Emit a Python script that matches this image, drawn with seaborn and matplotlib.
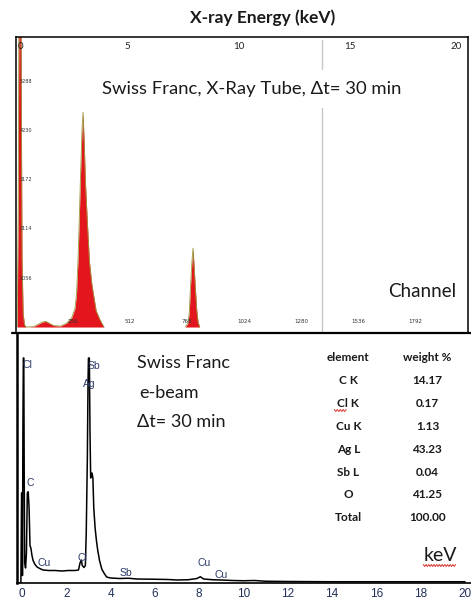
import seaborn as sns
import matplotlib.pyplot as plt
import numpy as np
import pandas as pd
from matplotlib.lines import Line2D

sns.set_style("white")
plt.rcParams['font.family'] = ['Lato', 'DejaVu Sans']

# top panel: X-ray tube spectrum, counts per channel
tube_channel = [0, 5, 10, 13, 22, 27, 32, 38, 45, 80, 100, 120, 135, 150, 170, 200,
                228, 250, 265, 272, 279, 284, 290, 296, 301, 306, 312, 320, 330, 340,
                347, 360, 375, 385, 395, 760, 772, 778, 784, 790, 795, 800, 806, 812,
                818, 825, 2030]
tube_counts = [0, 0, 2500, 7000, 7000, 1500, 300, 50, 0, 10, 60, 110, 120, 80, 30, 20,
               86, 200, 400, 730, 1500, 2300, 3300, 4200, 4630, 4000, 3100, 2300, 1400, 950,
               730, 350, 180, 86, 0, 0, 80, 300, 900, 1400, 1700, 1300, 800, 350,
               100, 0, 0]
count_ticks = [1056, 2114, 3172, 4230, 5288]
channel_ticks = [256, 512, 768, 1024, 1280, 1536, 1792]
energy_ticks_top = [0, 5, 10, 15, 20]

# bottom panel: e-beam EDS spectrum
ebeam_kev = [-0.2, -0.05, -0.02, 0.0, 0.02, 0.04, 0.06, 0.08, 0.10, 0.12, 0.16, 0.20,
             0.24, 0.28, 0.32, 0.36, 0.40, 0.45, 0.50, 0.58, 0.68, 0.8, 0.95, 1.2, 1.5,
             1.8, 2.1, 2.4, 2.55, 2.62, 2.68, 2.72, 2.8, 2.86, 2.9, 2.95, 2.98, 3.0,
             3.04, 3.07, 3.1, 3.16, 3.2, 3.24, 3.3, 3.36, 3.42, 3.5, 3.6, 3.7, 3.82,
             4.0, 4.4, 4.8, 5.2, 6.0, 6.6, 7.0, 7.5, 7.9, 8.05, 8.2, 8.6, 9.0, 9.5,
             10.0, 10.5, 11, 12, 14, 16, 18, 20]
ebeam_counts = [0, 0, 360, 360, 30, 600, 900, 900, 430, 80, 60, 120,
                360, 365, 300, 150, 140, 110, 90, 75, 64, 58, 52, 50, 50,
                48, 50, 50, 52, 80, 92, 70, 62, 70, 200, 500, 800, 900,
                900, 600, 420, 440, 420, 300, 220, 170, 130, 90, 56, 40, 24,
                20, 18, 19, 16, 15, 14, 12, 13, 18, 25, 16, 13, 12, 10,
                9, 10, 7, 6, 5, 5, 5, 5]
peak_labels = ["Cl", "Sb", "Ag", "C", "Cu", "Cl", "Sb", "Cu", "Cu"]
peak_label_kev = [0.25, 3.25, 3.05, 0.35, 1.0, 2.75, 4.7, 8.2, 9.0]
peak_label_counts = [870, 868, 795, 400, 80, 100, 40, 80, 32]

elements = ["C K", "Cl K", "Cu K", "Ag L", "Sb L", "O", "Total"]
weights = ["14.17", "0.17", "1.13", "43.23", "0.04", "41.25", "100.00"]

dark = "#1a1a1a"
fig = plt.figure(figsize=(4.71, 6.01), dpi=100)


def squiggle(ax, x0, x1, y, n=25, color="#d9342b"):
    # spell-check style wavy underline, in axes fraction coords
    xs = np.linspace(x0, x1, n)
    ys = y + np.where(np.arange(n) % 2 == 0, 0.004, -0.004)
    ax.plot(xs, ys, transform=ax.transAxes, color=color, lw=0.7)


# ---- top panel ----
ax1 = fig.add_axes([16 / 471, 1 - 333 / 601, 452 / 471, 296 / 601])
tube = pd.DataFrame({"channel": tube_channel, "counts": tube_counts})
ax1.fill_between(tube["channel"], tube["counts"], color="#e3151d", lw=0)

# outline of the peaks only: break the line wherever it runs along zero
edge_x, edge_y = [], []
for i, (c, n) in enumerate(zip(tube_channel, tube_counts)):
    edge_x.append(c)
    edge_y.append(n)
    if i + 1 < len(tube_counts) and n == 0 and tube_counts[i + 1] == 0:
        edge_x.append(c)
        edge_y.append(np.nan)
ax1.plot(edge_x, edge_y, color="#9c9a3c", lw=0.6)

ax1.set_xlim(0, 2030)
ax1.set_ylim(-129, 6250)
ax1.axvline(1374, color="#c8c8c8", lw=1, ymax=0.99, zorder=0)
ax1.set_xticks(channel_ticks)
ax1.set_xticks(range(0, 2030, 32), minor=True)
ax1.set_xticklabels([])
ax1.set_yticks(count_ticks)
ax1.set_yticks(range(0, 6250, 106), minor=True)
ax1.set_yticklabels([])
ax1.tick_params(axis="both", which="both", direction="in", color="#8fa8cc")
ax1.tick_params(axis="both", which="major", length=4)
ax1.tick_params(axis="both", which="minor", length=2)
ax1.set_xlabel("")
ax1.set_ylabel("")
for s in ax1.spines.values():
    s.set_color("black")
    s.set_linewidth(1.1)
for c in channel_ticks:
    ax1.text(c, 60, str(c), fontsize=4, ha="center", va="bottom", color="#333333",
             family="DejaVu Sans")
for v in count_ticks:
    ax1.text(0.008, v, str(v), transform=ax1.get_yaxis_transform(), fontsize=3.5,
             ha="left", va="center", color="#333333", family="DejaVu Sans")
for e in energy_ticks_top:
    ha = "left" if e == 0 else ("right" if e == 20 else "center")
    ax1.text(e * 100 + (6 if e == 0 else 0), 6150, str(e), fontsize=7, ha=ha, va="top",
             color="#222222")
ax1.text(1060, 5130, "Swiss Franc, X-Ray Tube, \u0394t= 30 min", fontsize=13.3,
         ha="center", va="center", color=dark,
         bbox=dict(facecolor="white", edgecolor="none", pad=8))
ax1.text(0.975, 0.14, "Channel", transform=ax1.transAxes, fontsize=13.5,
         ha="right", va="center", color=dark)
fig.text(263 / 471, 1 - 18 / 601, "X-ray Energy (keV)", fontsize=12.5,
         fontweight="bold", ha="center", va="center", color=dark)

# ---- bottom panel ----
ax2 = fig.add_axes([17 / 471, 18 / 601, 454 / 471, 250 / 601])
ebeam = pd.DataFrame({"kev": ebeam_kev, "counts": ebeam_counts})
sns.lineplot(data=ebeam, x="kev", y="counts", ax=ax2, color="black", lw=1.1)
ax2.set_xlim(-0.226, 20.27)
ax2.set_ylim(0, 1000)
ax2.set_xticks(range(0, 21, 2))
ax2.set_xticks([i * 0.5 for i in range(41)], minor=True)
ax2.set_yticks([])
ax2.set_xlabel("")
ax2.set_ylabel("")
ax2.tick_params(axis="x", which="major", direction="inout", length=5, width=1,
                labelsize=8.5, pad=1, labelcolor="#22305a")
ax2.tick_params(axis="x", which="minor", direction="inout", length=3, width=0.8)
for lab in ax2.get_xticklabels():
    lab.set_family("Liberation Sans")
ax2.spines["top"].set_visible(False)
ax2.spines["right"].set_visible(False)
ax2.spines["left"].set_linewidth(1.8)
ax2.spines["bottom"].set_linewidth(1.2)
for s in ("left", "bottom"):
    ax2.spines[s].set_color("black")
for lab, e, c in zip(peak_labels, peak_label_kev, peak_label_counts):
    ax2.text(e, c, lab, fontsize=7.5, ha="center", va="center", color="#2b3a67",
             family="Liberation Sans")

ax2.text(5.2, 880, "Swiss Franc", fontsize=13, ha="left", va="center", color=dark)
ax2.text(5.3, 760, "e-beam", fontsize=13, ha="left", va="center", color=dark)
ax2.text(5.2, 645, "\u0394t= 30 min", fontsize=13, ha="left", va="center", color=dark)

col_el, col_wt = 14.73, 18.3
ax2.text(col_el, 900, "element", fontsize=8.5, fontweight="bold", ha="center",
         va="center", color=dark)
ax2.text(col_wt, 900, "weight %", fontsize=8.5, fontweight="bold", ha="center",
         va="center", color=dark)
for i, (el, wt) in enumerate(zip(elements, weights)):
    y = 808 - i * 91
    ax2.text(col_el, y, el, fontsize=8.5, fontweight="bold", ha="center",
             va="center", color=dark)
    ax2.text(col_wt, y, wt, fontsize=8.5, fontweight="bold", ha="center",
             va="center", color=dark)
squiggle(ax2, 0.699, 0.725, 0.69, n=9)
ax2.text(18.87, 110, "keV", fontsize=14, ha="center", va="center", color=dark)
squiggle(ax2, 0.895, 0.966, 0.07)

# divider line between panels
fig.add_artist(Line2D([12 / 471, 1], [1 - 333 / 601, 1 - 333 / 601], color="black",
                      lw=1.6))

fig.savefig("out.png", dpi=100)
